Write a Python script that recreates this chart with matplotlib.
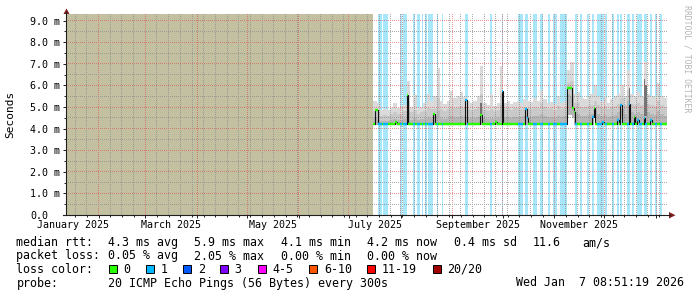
import numpy as np
import matplotlib
matplotlib.use('Agg')
import matplotlib.pyplot as plt
import matplotlib.dates as mdates
import matplotlib.transforms as mtransforms
from matplotlib.ticker import MultipleLocator
from matplotlib.collections import LineCollection
from matplotlib.lines import Line2D
from matplotlib.patches import Polygon, Rectangle
import datetime as dt

# ---------------- data ----------------
view_start = dt.datetime(2025, 1, 12, 12)
view_end = dt.datetime(2026, 1, 7, 12)
data_start = dt.datetime(2025, 7, 15, 12)   # first day with measurements
n_days = 176

# daily median rtt (ms)
median = [
    4.20, 4.88, 4.88, 4.20, 4.20, 4.20, 4.20, 4.20, 4.20, 4.20,
    4.20, 4.20, 4.20, 4.32, 4.20, 4.20, 4.20, 4.20, 4.20, 4.20,
    5.55, 4.20, 4.20, 4.20, 4.20, 4.20, 4.20, 4.20, 4.20, 4.20,
    4.20, 4.20, 4.20, 4.20, 4.20, 4.20, 4.70, 4.20, 4.20, 4.20,
    4.22, 4.22, 4.22, 4.22, 4.22, 4.22, 4.22, 4.22, 4.20, 4.20,
    4.20, 4.20, 4.20, 4.20, 4.20, 5.32, 4.20, 4.20, 4.20, 4.20,
    4.20, 4.20, 4.20, 4.20, 4.63, 4.20, 4.20, 4.20, 4.20, 4.20,
    4.20, 4.20, 4.20, 4.30, 4.20, 4.20, 4.20, 5.75, 4.20, 4.20,
    4.20, 4.20, 4.20, 4.20, 4.20, 4.20, 4.20, 4.20, 4.20, 4.20,
    4.20, 4.89, 4.50, 4.20, 4.20, 4.20, 4.20, 4.20, 4.20, 4.20,
    4.20, 4.20, 4.20, 4.20, 4.20, 4.20, 4.20, 4.20, 4.20, 4.20,
    4.20, 4.20, 4.20, 4.20, 4.20, 4.20, 5.90, 5.90, 5.90, 4.95,
    4.77, 4.20, 4.20, 4.20, 4.20, 4.20, 4.20, 4.20, 4.20, 4.20,
    4.20, 4.55, 4.95, 4.20, 4.20, 4.20, 4.20, 4.30, 4.20, 4.20,
    4.20, 4.20, 4.20, 4.20, 4.20, 4.20, 4.40, 4.20, 5.10, 4.20,
    4.20, 4.20, 4.20, 5.15, 4.20, 4.20, 4.55, 4.20, 4.40, 4.20,
    4.20, 4.20, 4.50, 4.20, 4.20, 4.20, 4.40, 4.20, 4.20, 4.20,
    4.20, 4.20, 4.20, 4.20, 4.20, 4.20,
]

# day offsets (from data_start) with 1/20 packet loss
loss_days = [3, 4, 6, 7, 8, 16, 18, 19, 24, 26, 27, 29, 31, 33, 34, 35, 38, 41,
             55, 56, 70, 77, 87, 88, 89, 91, 92, 96, 97, 100, 101, 105, 108, 109,
             112, 113, 114, 115, 121, 124, 128, 131, 134, 135, 136, 137, 139,
             143, 146, 148, 152, 153, 155, 158, 159, 160, 162, 163, 166, 169, 172]

# smoke envelopes in 2-day bins (ms)
smoke_top = [5.30, 5.20, 4.85, 4.90, 4.85, 4.95, 5.20, 4.95, 5.00, 5.10,
             6.20, 5.00, 5.55, 4.95, 5.00, 5.20, 5.60, 5.30, 5.50, 6.80,
             5.30, 5.15, 5.30, 5.75, 5.40, 5.50, 5.70, 5.45, 5.30, 5.20,
             5.30, 5.50, 6.90, 5.20, 5.10, 5.60, 5.05, 5.20, 6.90, 5.20,
             5.30, 5.15, 5.25, 5.30, 5.20, 5.35, 5.30, 5.25, 5.40, 5.30,
             5.80, 5.35, 5.20, 5.25, 5.15, 5.50, 5.20, 5.30, 6.70, 7.10,
             5.60, 5.70, 5.40, 5.35, 5.45, 5.60, 6.00, 5.50, 5.30, 5.45,
             5.20, 5.35, 5.50, 5.60, 6.00, 5.50, 6.70, 5.60, 5.50, 5.70,
             5.50, 7.10, 5.60, 5.50, 5.45, 6.10, 5.50, 5.40]
smoke_mid = [4.80, 4.75, 4.60, 4.65, 4.60, 4.70, 4.75, 4.70, 4.70, 4.80,
             5.30, 4.75, 4.85, 4.70, 4.75, 4.80, 4.95, 4.90, 4.90, 5.40,
             4.90, 4.80, 4.90, 5.00, 4.95, 5.00, 5.05, 4.95, 4.90, 4.85,
             4.90, 5.00, 5.60, 4.85, 4.80, 4.90, 4.80, 4.85, 5.60, 4.90,
             4.95, 4.85, 4.95, 4.95, 4.90, 5.00, 4.95, 4.90, 5.00, 4.95,
             5.20, 5.00, 4.90, 4.95, 4.85, 5.05, 4.90, 4.95, 6.10, 6.20,
             5.20, 5.20, 5.00, 5.00, 5.05, 5.10, 5.30, 5.10, 4.95, 5.05,
             4.90, 5.00, 5.05, 5.15, 5.40, 5.10, 5.80, 5.15, 5.10, 5.20,
             5.10, 5.90, 5.15, 5.10, 5.05, 5.30, 5.10, 5.00]
smoke_core = [4.50, 4.40, 4.35, 4.35, 4.35, 4.40, 4.45, 4.40, 4.40, 4.45,
              4.80, 4.40, 4.50, 4.40, 4.45, 4.45, 4.55, 4.50, 4.60, 4.80,
              4.50, 4.45, 4.50, 4.60, 4.55, 4.55, 4.60, 4.55, 4.50, 4.50,
              4.50, 4.55, 5.00, 4.50, 4.45, 4.50, 4.45, 4.50, 5.10, 4.50,
              4.55, 4.50, 4.55, 4.55, 4.55, 4.60, 4.60, 4.55, 4.60, 4.60,
              4.70, 4.60, 4.55, 4.55, 4.50, 4.60, 4.55, 4.60, 5.60, 5.50,
              4.80, 4.70, 4.60, 4.60, 4.65, 4.70, 4.85, 4.70, 4.60, 4.65,
              4.55, 4.60, 4.65, 4.75, 4.90, 4.70, 5.30, 4.75, 4.70, 4.75,
              4.70, 5.40, 4.75, 4.70, 4.65, 4.80, 4.70, 4.60]
smoke_floor = 4.15
raised_days = [116, 117, 118, 119, 132, 148, 153, 156]
raised_floor = [4.65, 4.65, 4.65, 4.50, 4.55, 4.45, 4.50, 4.40]

dark_days = [64, 153, 162, 163]
dark_lo = [4.60, 5.10, 4.60, 4.60]
dark_hi = [5.20, 5.90, 6.30, 6.00]

y_ticks = [0, 1, 2, 3, 4, 5, 6, 7, 8, 9]
month_labels = [(2025, 1), (2025, 3), (2025, 5), (2025, 7), (2025, 9), (2025, 11)]

legend_row1 = [("median rtt:", 16.5), ("4.3 ms avg", 108), ("5.9 ms max", 194),
               ("4.1 ms min", 280.6), ("4.2 ms now", 367), ("0.4 ms sd", 454),
               ("11.6", 533), ("am/s", 582)]
legend_row2 = [("packet loss:", 16.5), ("0.05 % avg", 108), ("2.05 % max", 194),
               ("0.00 % min", 280.6), ("0.00 % now", 367)]
loss_labels = ["0", "1", "2", "3", "4-5", "6-10", "11-19", "20/20"]
loss_colors = ['#26ff00', '#00b8ff', '#0059ff', '#7e00ff', '#ff00ff',
               '#ff5500', '#ff0000', '#a10000']
probe_text = "20 ICMP Echo Pings (56 Bytes) every 300s"
date_text = "Wed Jan  7 08:51:19 2026"

# ---------------- figure ----------------
W, H = 697, 297
MONO = 'DejaVu Sans Mono'
fig = plt.figure(figsize=(W / 100, H / 100), dpi=100)
fig.patch.set_facecolor('white')

L, R, T, B = 66, 667, 14, 215
YMAX = 9.31
ax = fig.add_axes([L / W, 1 - B / H, (R - L) / W, (B - T) / H])
ax.set_xlim(view_start, view_end)
ax.set_ylim(0, YMAX)
ax.set_facecolor('white')
for s in ax.spines.values():
    s.set_visible(False)

t0 = mdates.date2num(data_start)
x_edges = t0 + np.arange(n_days + 1)

med = np.array(median)
loss = np.zeros(n_days, dtype=int)
loss[loss_days] = 1
top = np.repeat(smoke_top, 2)
mid = np.repeat(smoke_mid, 2)
core = np.repeat(smoke_core, 2)
floor = np.full(n_days, smoke_floor)
floor[raised_days] = raised_floor

def ext(a):
    return np.append(a, a[-1])

# unknown period shading
ax.axvspan(view_start, data_start, color='#c2c0a0', lw=0, zorder=0.8)

# loss background bands
runs = []
for d in loss_days:
    if runs and d == runs[-1][1] + 1:
        runs[-1][1] = d
    else:
        runs.append([d, d])
for s, e in runs:
    ax.axvspan(t0 + s, t0 + e + 1, color='#a8e6fa', lw=0, zorder=0.9)

# smoke
ax.fill_between(x_edges, ext(floor), ext(top), step='post', color='#dadada', lw=0, zorder=1.1)
ax.fill_between(x_edges, ext(floor), ext(np.maximum(mid, floor)), step='post', color='#c9c9c9', lw=0, zorder=1.2)
ax.fill_between(x_edges, ext(floor), ext(np.maximum(core, floor)), step='post', color='#b6b6b6', lw=0, zorder=1.3)
for d, lo, hi in zip(dark_days, dark_lo, dark_hi):
    ax.bar(t0 + d, hi - lo, bottom=lo, width=1.0, align='edge', color='#747474', lw=0, zorder=1.4)

# ticks
ax.xaxis.set_major_locator(mdates.MonthLocator())
ax.xaxis.set_minor_locator(mdates.WeekdayLocator(byweekday=mdates.SA))
ax.yaxis.set_major_locator(MultipleLocator(1))
ax.yaxis.set_minor_locator(MultipleLocator(0.5))
ax.tick_params(which='major', length=2.2, width=0.7, color='#1f1f1f', direction='out',
               labelbottom=False, labelleft=False)
ax.tick_params(which='minor', length=1.4, width=0.7, color='#1f1f1f', direction='out')

# grid: 1px dotted rrdtool-style, rendered as a pixel-exact overlay
gw, gh = R - L, B - T
grid_img = np.zeros((gh, gw, 4))
minor_rgba = (0.56, 0.56, 0.56, 0.75)
major_rgba = (0.87, 0.31, 0.31, 0.60)

def xcol(xval):
    return int(np.floor(ax.transData.transform((xval, 0))[0] - L))

def yrow(yval):
    yd = ax.transData.transform((mdates.date2num(view_start), yval))[1]
    return int(np.floor(H - yd - T))

day = view_start.replace(hour=0) + dt.timedelta(days=1)
vlines = []
while day < view_end:
    if day.day == 1:
        vlines.append((mdates.date2num(day), major_rgba))
    elif day.weekday() == 5:
        vlines.append((mdates.date2num(day), minor_rgba))
    day += dt.timedelta(days=1)
hlines = [(v / 2, major_rgba if v % 2 == 0 else minor_rgba) for v in range(1, 19)]
for xv, c in vlines:
    cc = xcol(xv)
    if 0 <= cc < gw:
        grid_img[gh - 1::-2, cc] = c
for yv, c in hlines:
    rr = yrow(yv)
    if 0 <= rr < gh:
        grid_img[rr, 0::2] = c
ax.imshow(grid_img, extent=(mdates.date2num(view_start), mdates.date2num(view_end), 0, YMAX),
          aspect='auto', interpolation='nearest', origin='upper', zorder=2)
ax.set_xlim(view_start, view_end)
ax.set_ylim(0, YMAX)

# median line: black steps + loss-coloured segments
ax.step(x_edges, ext(med), where='post', color='#111111', lw=0.8, zorder=3)
segs = [[(t0 + d, med[d]), (t0 + d + 1, med[d])] for d in range(n_days)]
cols = [loss_colors[loss[d]] for d in range(n_days)]
ax.add_collection(LineCollection(segs, colors=cols, linewidths=1.7, capstyle='butt', zorder=3.1))

# ---------------- axes lines / arrows (pixel coords) ----------------
def P(x, y):
    return (x / W, 1 - y / H)

fig.add_artist(Line2D([P(66, 215)[0], P(66, 12)[0]], [P(66, 215)[1], P(66, 12)[1]],
                      color='#1f1f1f', lw=0.8, transform=fig.transFigure))
fig.add_artist(Line2D([P(63, 215)[0], P(670, 215)[0]], [P(63, 215)[1], P(670, 215)[1]],
                      color='#1f1f1f', lw=0.8, transform=fig.transFigure))
fig.add_artist(Polygon([P(63.5, 14), P(69.5, 14), P(66.5, 8.5)], closed=True,
                       color='#801f1f', lw=0, transform=fig.transFigure))
fig.add_artist(Polygon([P(669, 212), P(669, 218.5), P(675.5, 215.2)], closed=True,
                       color='#801f1f', lw=0, transform=fig.transFigure))

# y tick labels
ytr = mtransforms.blended_transform_factory(fig.transFigure, ax.transData)
for v in y_ticks:
    lab = "0.0" if v == 0 else f"{v:.1f} m"
    ax.text(30 / W, v, lab, transform=ytr, ha='left', va='center_baseline',
            fontsize=7.2, family=MONO, color='#000000')

# x tick labels (centred in the month)
xtr = mtransforms.blended_transform_factory(ax.transData, fig.transFigure)
for (yy, mm) in month_labels:
    ms = dt.datetime(yy, mm, 1)
    me = dt.datetime(yy + (mm // 12), mm % 12 + 1, 1)
    mid_t = ms + (me - ms) / 2
    ax.text(mdates.date2num(mid_t), 1 - 228 / H, ms.strftime("%B %Y"), transform=xtr,
            ha='center', va='baseline', fontsize=7.2, family=MONO, color='#000000')

fig.text(10 / W, 1 - 114 / H, "Seconds", rotation=90, ha='center', va='center',
         fontsize=8.0, family=MONO, color='#000000')

fig.text(687.5 / W, 1 - 5 / H, "RRDTOOL / TOBI OETIKER", rotation=270, ha='center', va='top',
         fontsize=5.9, family=MONO, color='#b4b4b4')

# legend
FS = 8.4
for txt, x in legend_row1:
    fig.text(x / W, 1 - 246 / H, txt, ha='left', va='baseline', fontsize=FS, family=MONO)
for txt, x in legend_row2:
    fig.text(x / W, 1 - 259.5 / H, txt, ha='left', va='baseline', fontsize=FS, family=MONO)
fig.text(16.5 / W, 1 - 273 / H, "loss color:", ha='left', va='baseline', fontsize=FS, family=MONO)
box_x = [108.6, 146, 183, 220, 258, 309, 367, 432.5]
lab_x = [123, 161, 198, 234.6, 272.6, 324, 382, 447]
for bx, lx, lab, c in zip(box_x, lab_x, loss_labels, loss_colors):
    fig.add_artist(Rectangle(P(bx, 273.3), 8.3 / W, 8 / H, facecolor=c, edgecolor='#000000',
                             lw=0.7, transform=fig.transFigure))
    fig.text(lx / W, 1 - 273 / H, lab, ha='left', va='baseline', fontsize=FS, family=MONO)
fig.text(16.5 / W, 1 - 286.5 / H, "probe:", ha='left', va='baseline', fontsize=FS, family=MONO)
fig.text(108 / W, 1 - 286.5 / H, probe_text, ha='left', va='baseline', fontsize=FS, family=MONO)
fig.text(684 / W, 1 - 286.5 / H, date_text, ha='right', va='baseline', fontsize=FS, family=MONO)

fig.savefig('out.png', dpi=100, facecolor='white')
